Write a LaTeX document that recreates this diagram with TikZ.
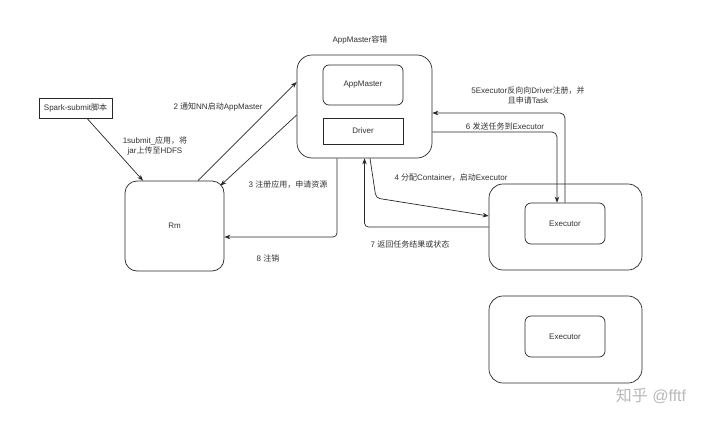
\documentclass[tikz,border=0pt]{standalone}
\usepackage{fontspec}
\setmainfont{Liberation Sans}
\newfontfamily\cjk{Noto Sans CJK SC}
\usetikzlibrary{arrows.meta,calc}
\definecolor{ln}{RGB}{40,40,40}
\definecolor{tx}{RGB}{50,50,50}
\definecolor{wm}{RGB}{185,185,185}
\tikzset{
  box/.style={draw=ln,line width=0.7pt,fill=white,text=tx,inner sep=0pt,font=\fontsize{8}{10}\selectfont},
  rbox/.style={box,rounded corners=#1},
  lbl/.style={text=tx,font=\fontsize{8}{10}\selectfont,inner sep=1pt,align=center},
  conn/.style={draw=ln,line width=0.7pt,-{Stealth[length=6pt,width=4.5pt]}},
}
\begin{document}
\begin{tikzpicture}[x=1pt,y=-1pt]
\useasboundingbox[fill=white] (0,0) rectangle (720,423);
% nodes
\node[box,minimum width=73pt,minimum height=20pt] (spark) at (75.5,108) {Spark-submit{\cjk 脚本}};
\node[rbox=12pt,minimum width=99pt,minimum height=90pt] (rm) at (174.5,226) {Rm};
\node[rbox=15pt,minimum width=135pt,minimum height=103pt] (amc) at (364.5,106.5) {};
\node[rbox=6pt,minimum width=80pt,minimum height=40pt] (am) at (363,85) {AppMaster};
\node[box,minimum width=80pt,minimum height=26pt] (drv) at (363,131) {Driver};
\node[rbox=14pt,minimum width=153pt,minimum height=86pt] (ec1) at (565.5,227) {};
\node[rbox=6pt,minimum width=80pt,minimum height=41pt] (e1) at (565,223.5) {Executor};
\node[rbox=14pt,minimum width=153pt,minimum height=87pt] (ec2) at (565.5,339.5) {};
\node[rbox=6pt,minimum width=80pt,minimum height=41pt] (e2) at (565,336.5) {Executor};
\node[lbl] (amct) at (360,40) {AppMaster{\cjk 容错}};
% connectors
\draw[conn] ([xshift=11.5pt]spark.south) -- ([xshift=-31.5pt]rm.north);
\draw[conn] ([xshift=23.5pt]rm.north) -- ([yshift=24.5pt]amc.west);
\draw[conn] ([yshift=-8.5pt]amc.west) -- ([shift={(-4pt,-5pt)}]rm.north east);
\draw[conn,rounded corners=4pt] ([xshift=-27.5pt]amc.south) |- ([yshift=-11pt]rm.east);
\coordinate (k4) at (376,198);
\draw[conn,rounded corners=4pt] ([xshift=5.5pt]amc.south) -- (k4) -- ([yshift=11pt]ec1.west);
\draw[conn,rounded corners=4pt] (ec1.west) -| (amc.south);
\draw[conn,rounded corners=5pt] (e1.north) |- ([yshift=-6.5pt]amc.east);
\draw[conn,rounded corners=5pt] ([yshift=-25.5pt]amc.east) -| ([xshift=-8pt]e1.north);
% labels
\node[lbl] (l1) at (155,145.5) {1submit\_{\cjk 应用，将}\\jar{\cjk 上传至}HDFS};
\node[lbl] (l2) at (218,107) {2 {\cjk 通知}NN{\cjk 启动}AppMaster};
\node[lbl] (l3) at (288,185) {3 {\cjk 注册应用，申请资源}};
\node[lbl] (l8) at (268,258) {8 {\cjk 注销}};
\node[lbl] (l4) at (451,178) {4 {\cjk 分配}Container{\cjk ，启动}Executor};
\node[lbl] (l7) at (410,244) {7 {\cjk 返回任务结果或状态}};
\node[lbl] (l5) at (528,95) {5Executor{\cjk 反向向}Driver{\cjk 注册，并}\\{\cjk 且申请}Task};
\node[lbl] (l6) at (505,126) {6 {\cjk 发送任务到}Executor};
\node[text=wm,font=\fontsize{16}{18}\selectfont,inner sep=0pt] (wmk) at (651,396) {{\cjk 知乎} @fftf};
\end{tikzpicture}
\end{document}
